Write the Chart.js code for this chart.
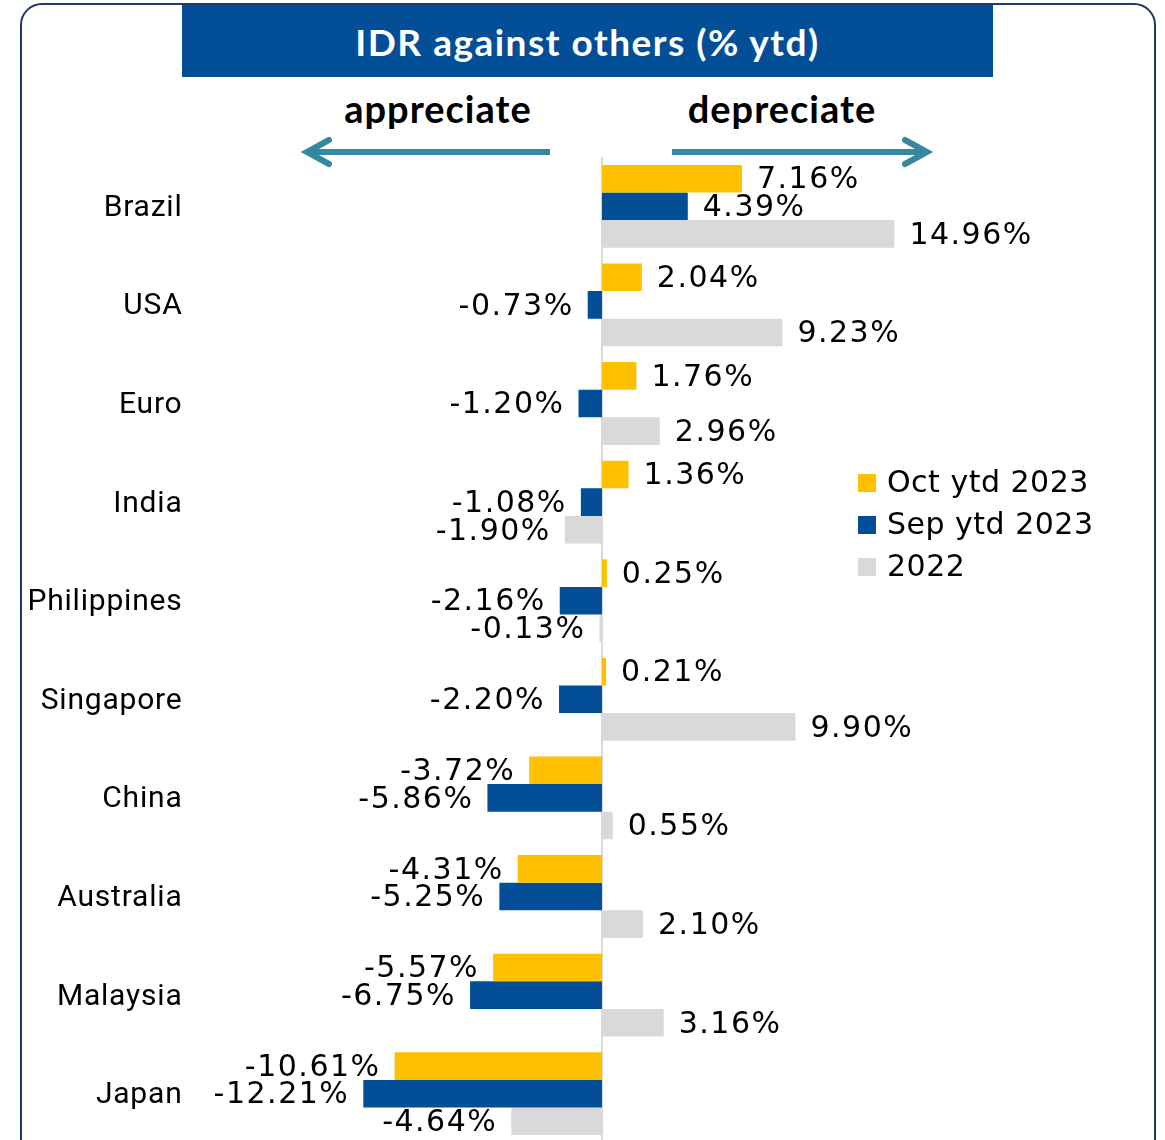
<!DOCTYPE html>
<html>
<head>
<meta charset="utf-8">
<script src="https://cdn.jsdelivr.net/npm/chart.js@4.4.0/dist/chart.umd.min.js"></script>
<style>
  body { margin: 0; width: 1165px; height: 1140px; overflow: hidden; background: #fff; position: relative; }
  .frame { position: absolute; left: 20px; top: 3px; width: 1132px; height: 1200px; border: 2px solid #1f3864; border-radius: 22px; }
  .title { position: absolute; left: 182px; top: 5px; width: 811px; height: 72px; background: #024f98; color: #fff;
           font: bold 37px Lato, sans-serif; letter-spacing: 1.5px; text-align: center; line-height: 74px; }
  .dir { position: absolute; top: 85px; font: bold 38px Lato, sans-serif; letter-spacing: 1px; color: #000; width: 300px; text-align: center; }
  canvas { position: absolute; left: 0; top: 0; }
  svg { position: absolute; left: 0; top: 0; }
</style>
</head>
<body>
<div class="frame"></div>
<div class="title">IDR against others (% ytd)</div>
<div class="dir" style="left:288px">appreciate</div>
<div class="dir" style="left:632px">depreciate</div>
<svg width="1165" height="200">
  <g stroke="#35889f" stroke-width="6" stroke-linecap="round" fill="none">
    <line x1="550" y1="152" x2="309" y2="152" stroke-linecap="butt"/>
    <polyline points="329,140 307,152 329,164"/>
    <line x1="672" y1="152" x2="925" y2="152" stroke-linecap="butt"/>
    <polyline points="905,140 927,152 905,164"/>
  </g>
</svg>
<canvas id="chart1" width="1165" height="1170"></canvas>
<script>
  // categories and series
  var countries = ['Brazil', 'USA', 'Euro', 'India', 'Philippines', 'Singapore', 'China', 'Australia', 'Malaysia', 'Japan']
  var octYtd2023 = [7.16, 2.04, 1.76, 1.36, 0.25, 0.21, -3.72, -4.31, -5.57, -10.61]
  var sepYtd2023 = [4.39, -0.73, -1.20, -1.08, -2.16, -2.20, -5.86, -5.25, -6.75, -12.21]
  var y2022 = [14.96, 9.23, 2.96, -1.90, -0.13, 9.90, 0.55, 2.10, 3.16, -4.64]

  var labelFont = '30px "DejaVu Sans", sans-serif'

  // a bit of letter spacing like the original font (used by the tick labels)
  var spacing = {
    id: 'spacing',
    beforeDraw: function (chart) {
      chart.ctx.letterSpacing = '0.8px'
    }
  }

  // vertical zero line behind the bars
  var zeroLine = {
    id: 'zeroLine',
    beforeDatasetsDraw: function (chart) {
      var ctx = chart.ctx
      var x = chart.scales.x.getPixelForValue(0)
      ctx.save()
      ctx.strokeStyle = '#d9d9d9'
      ctx.lineWidth = 2
      ctx.beginPath()
      ctx.moveTo(x, chart.chartArea.top)
      ctx.lineTo(x, chart.chartArea.bottom)
      ctx.stroke()
      ctx.restore()
    }
  }

  // value labels at the end of every bar
  var valueLabels = {
    id: 'valueLabels',
    afterDatasetsDraw: function (chart) {
      var ctx = chart.ctx
      ctx.save()
      ctx.font = labelFont
      ctx.letterSpacing = '1.5px'
      ctx.fillStyle = '#000'
      ctx.textBaseline = 'middle'
      chart.data.datasets.forEach(function (ds, i) {
        var meta = chart.getDatasetMeta(i)
        meta.data.forEach(function (bar, j) {
          var v = ds.data[j]
          var txt = v.toFixed(2) + '%'
          if (v >= 0) {
            ctx.textAlign = 'left'
            ctx.fillText(txt, bar.x + 15, bar.y + 2)
          } else {
            ctx.textAlign = 'right'
            ctx.fillText(txt, bar.x - 14, bar.y + 2)
          }
        })
      })
      ctx.restore()
    }
  }

  // legend box on the right
  var sideLegend = {
    id: 'sideLegend',
    afterDraw: function (chart) {
      var ctx = chart.ctx
      ctx.save()
      ctx.font = labelFont
      ctx.letterSpacing = '0.5px'
      ctx.textBaseline = 'middle'
      ctx.textAlign = 'left'
      chart.data.datasets.forEach(function (ds, i) {
        var y = 483 + i * 42
        ctx.fillStyle = ds.backgroundColor
        ctx.fillRect(858, y - 9, 18, 18)
        ctx.fillStyle = '#000'
        ctx.fillText(ds.label, 887, y + 1)
      })
      ctx.restore()
    }
  }

  var ctx = document.getElementById('chart1').getContext('2d')
  var chart1 = new Chart(ctx, {
    type: 'bar',
    data: {
      labels: countries,
      datasets: [
        { label: 'Oct ytd 2023', data: octYtd2023, backgroundColor: '#ffc000' },
        { label: 'Sep ytd 2023', data: sepYtd2023, backgroundColor: '#024f98' },
        { label: '2022', data: y2022, backgroundColor: '#d9d9d9' }
      ]
    },
    options: {
      indexAxis: 'y',
      responsive: false,
      animation: false,
      devicePixelRatio: 1,
      categoryPercentage: 0.84,
      barPercentage: 1.0,
      layout: { padding: { top: 157, bottom: 7, left: 0, right: 25.5 } },
      plugins: { legend: { display: false }, tooltip: { enabled: false } },
      scales: {
        x: { display: false, min: -21, max: 27.5 },
        y: {
          grid: { display: false, drawTicks: false },
          border: { display: false },
          ticks: { padding: 9, labelOffset: 2, color: '#000', font: { family: 'Roboto', size: 30 } },
          afterFit: function (scale) { scale.width = 191.5 }
        }
      }
    },
    plugins: [spacing, zeroLine, valueLabels, sideLegend]
  })
</script>
</body>
</html>
